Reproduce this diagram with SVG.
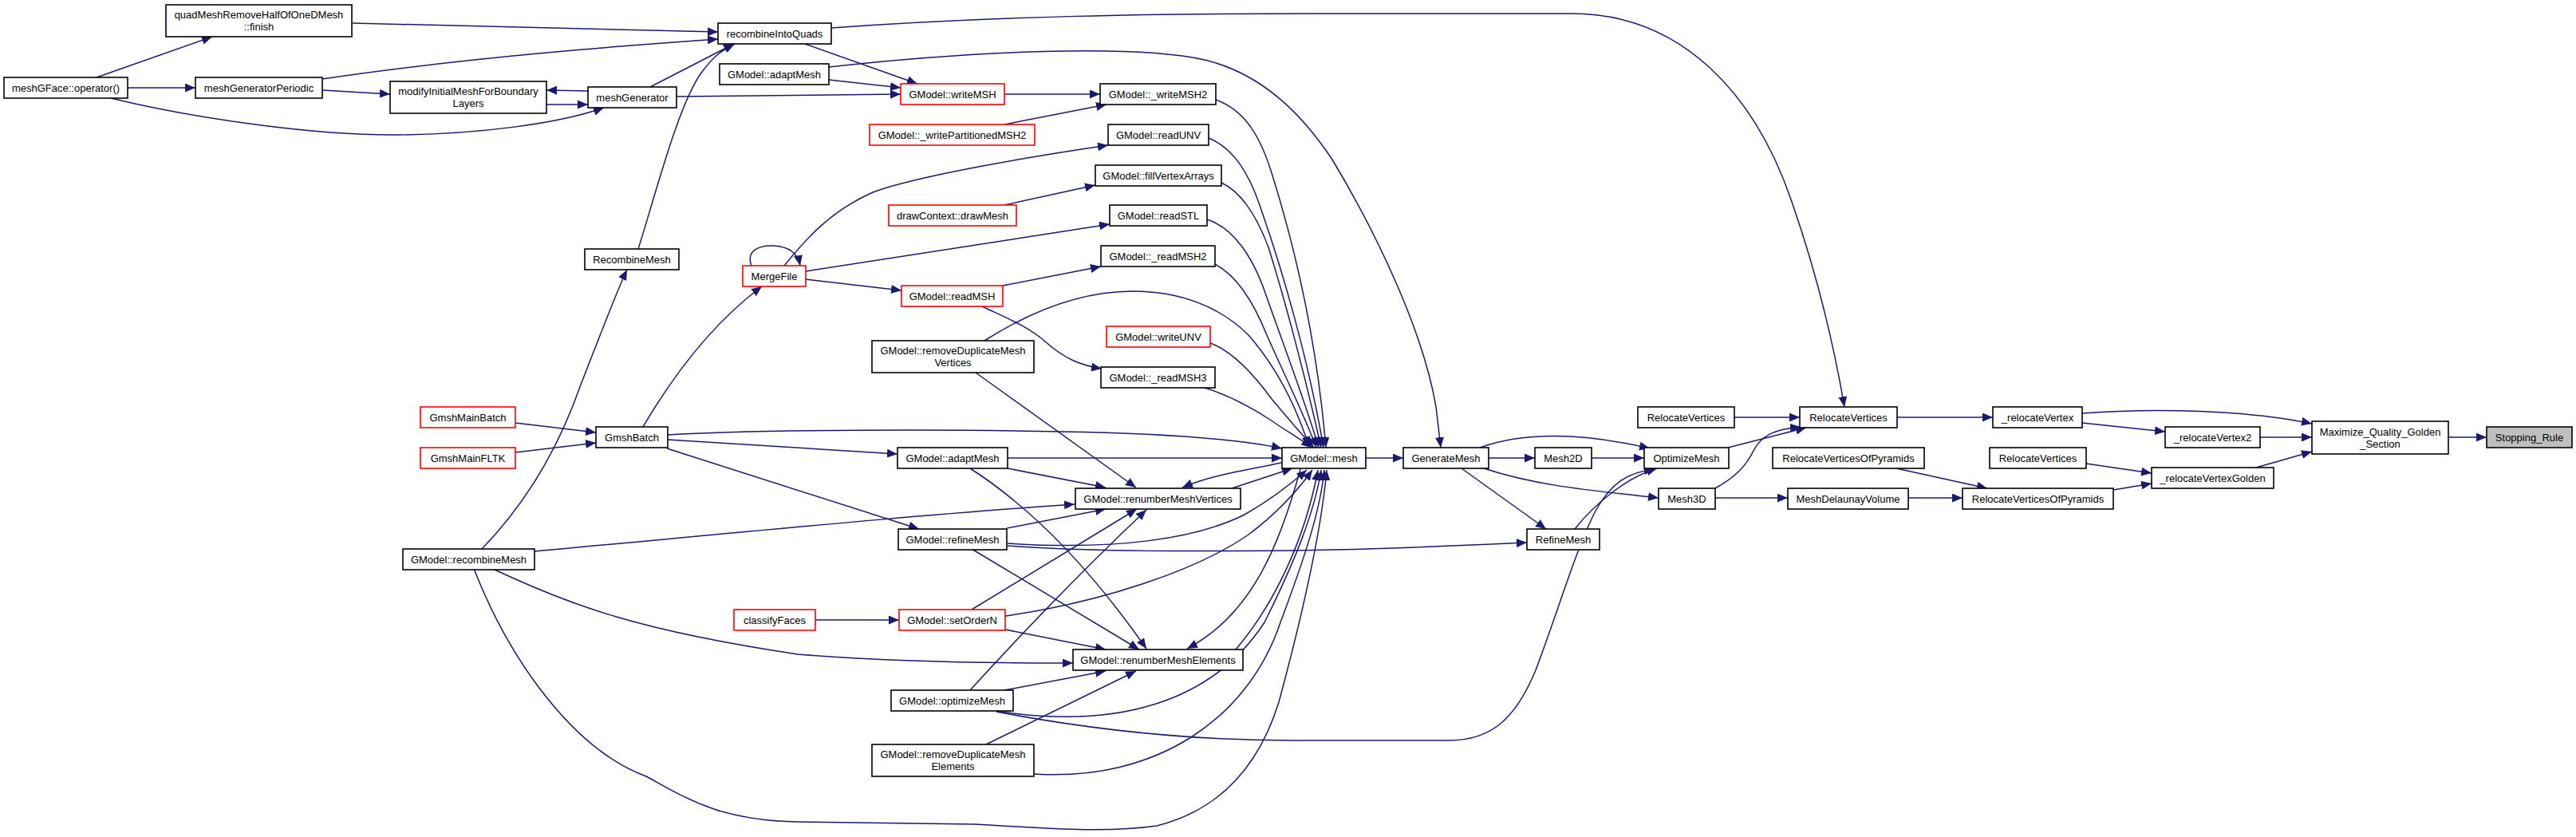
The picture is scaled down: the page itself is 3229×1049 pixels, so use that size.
<svg xmlns="http://www.w3.org/2000/svg" width="3229" height="1049" viewBox="0 0 3229 1049">
<style>
.n rect{fill:#fff;stroke:#000;stroke-width:1.6}
.n.r rect{stroke:#ff0000}
.n.g rect{fill:#bfbfbf}
.n text{font-family:"Liberation Sans",Arial,Helvetica,sans-serif;font-size:13px;text-anchor:middle;fill:#000}
#edges path{fill:none;stroke:#191970;stroke-width:1.5;marker-end:url(#a)}
</style>
<defs>
<marker id="a" markerUnits="userSpaceOnUse" markerWidth="14" markerHeight="11" refX="13" refY="5.5" orient="auto"><path d="M0,0 L13,5.5 L0,11 z" fill="#191970"/></marker>
</defs>
<rect width="3229" height="1049" fill="#fff"/>
<g id="edges">
<path d="M3069,548 L3117,548"/>
<path d="M2610,518 C2700,511 2820,514 2898,531"/>
<path d="M2610,530 L2714,541"/>
<path d="M2833,548 L2898,548"/>
<path d="M2828,586 L2898,566"/>
<path d="M2615,581 L2697,593"/>
<path d="M2649,614 L2697,606"/>
<path d="M2378,523 L2498,523"/>
<path d="M2392,624 L2460,624"/>
<path d="M2377,587 L2491,612"/>
<path d="M2174,523 L2256,523"/>
<path d="M2166,561 L2264,536"/>
<path d="M2150,612 C2175,598 2188,585 2198,565 C2208,545 2225,538 2257,535"/>
<path d="M1042,35 C1250,20 1450,17 1650,17 L1970,17 C2110,17 2200,120 2245,250 C2280,350 2300,440 2312,510"/>
<path d="M1866,574 L1924,574"/>
<path d="M1995,574 L2061,574"/>
<path d="M1855,561 C1900,545 1965,538 2068,562"/>
<path d="M1860,587 C1930,610 2000,615 2079,624"/>
<path d="M1832,587 L1938,663"/>
<path d="M1974,663 C2000,630 2040,598 2077,587"/>
<path d="M2150,624 L2241,624"/>
<path d="M1712,574 L1759,574"/>
<path d="M1249,892 C1370,915 1500,928 1620,928 L1816,928 C1870,928 1900,900 1925,840 C1955,760 1975,690 2000,640 C2020,605 2040,592 2074,588"/>
<path d="M1263,684 C1380,692 1500,691 1620,690 C1750,688 1850,683 1914,680"/>
<path d="M121,97 L266,46"/>
<path d="M160,110 L245,110"/>
<path d="M139,123 C250,150 400,170 500,169 C600,168 700,155 757,135"/>
<path d="M404,113 L489,118"/>
<path d="M404,99 C600,70 800,56 900,49"/>
<path d="M442,29 C650,33 800,38 900,40"/>
<path d="M737,114 L685,113"/>
<path d="M685,131 L737,131"/>
<path d="M815,109 L920,55"/>
<path d="M800,312 C820,250 850,130 880,90 C895,70 905,63 921,55"/>
<path d="M604,688 C660,630 700,560 725,490 C760,400 775,360 786,338"/>
<path d="M646,530 L747,542"/>
<path d="M646,567 L747,555"/>
<path d="M806,535 C850,460 900,400 955,359"/>
<path d="M837,545 C950,538 1200,538 1330,541 C1450,543 1550,550 1607,562"/>
<path d="M837,551 L1125,569"/>
<path d="M836,562 L1152,663"/>
<path d="M1263,574 L1607,574"/>
<path d="M1263,587 L1386,611"/>
<path d="M1216,587 Q1330,660 1437,813"/>
<path d="M1223,467 L1424,611"/>
<path d="M670,691 C900,670 1150,645 1347,632"/>
<path d="M1262,662 L1386,638"/>
<path d="M1218,688 L1428,814"/>
<path d="M1263,681 C1400,690 1500,675 1560,645 C1595,625 1620,605 1638,589"/>
<path d="M1218,764 L1425,638"/>
<path d="M1260,789 L1386,814"/>
<path d="M1260,772 C1380,755 1500,715 1565,670 C1605,640 1630,610 1645,589"/>
<path d="M1022,777 L1127,777"/>
<path d="M620,714 C720,760 800,790 1000,820 C1150,832 1300,831 1345,831"/>
<path d="M1606,580 C1560,590 1520,595 1482,611"/>
<path d="M1544,612 L1620,587"/>
<path d="M1630,588 C1605,680 1570,770 1488,813"/>
<path d="M1549,814 C1595,760 1635,680 1652,589"/>
<path d="M1259,865 L1386,841"/>
<path d="M1216,865 Q1330,740 1437,639"/>
<path d="M1249,891 C1400,915 1520,880 1585,780 C1625,700 1648,640 1656,589"/>
<path d="M1236,933 L1424,841"/>
<path d="M1296,970 C1450,980 1565,900 1605,780 C1635,700 1655,640 1660,589"/>
<path d="M594,713 C640,830 720,940 810,973 C860,1000 900,1028 1000,1030 L1223,1033 C1300,1037 1380,1045 1450,1035 C1530,1015 1578,960 1603,880 C1630,780 1656,670 1663,589"/>
<path d="M1524,125 C1560,138 1580,170 1595,220 C1620,300 1650,420 1662,561"/>
<path d="M1515,173 C1545,185 1565,215 1580,260 C1608,340 1640,450 1659,561"/>
<path d="M1531,229 C1555,240 1575,270 1590,310 C1612,380 1638,480 1656,561"/>
<path d="M1513,275 C1545,285 1570,320 1587,370 C1608,430 1635,500 1653,561"/>
<path d="M1523,331 C1550,345 1572,380 1588,420 C1610,470 1635,520 1650,561"/>
<path d="M1517,430 C1545,440 1572,470 1594,500 C1615,525 1632,545 1647,561"/>
<path d="M1507,485 C1540,495 1568,510 1595,528 C1612,540 1630,550 1644,561"/>
<path d="M1234,427 C1300,385 1360,365 1420,365 C1480,365 1530,385 1565,420 C1600,460 1625,510 1641,560"/>
<path d="M1039,84 C1220,64 1420,55 1510,75 C1580,92 1630,140 1670,200 C1730,300 1785,420 1800,510 L1806,561"/>
<path d="M1009,55 L1150,105"/>
<path d="M1039,100 L1129,110"/>
<path d="M848,121 L1129,118"/>
<path d="M1259,118 L1379,118"/>
<path d="M1259,156 L1387,131"/>
<path d="M983,333 C1010,300 1040,265 1094,241 C1150,220 1300,195 1389,182"/>
<path d="M1259,257 L1373,232"/>
<path d="M1010,340 L1391,281"/>
<path d="M1010,350 L1130,364"/>
<path d="M942,333 C935,315 950,307 970,308 C990,309 1000,318 1003,333"/>
<path d="M1257,358 L1380,334"/>
<path d="M1231,384 C1265,400 1290,410 1310,428 C1335,450 1355,458 1381,462"/>
</g>
<g id="n_quadMeshFinish" class="n"><rect x="208" y="6" width="233" height="40"/><text x="324.5" y="23">quadMeshRemoveHalfOfOneDMesh</text><text x="324.5" y="38">::finish</text></g>
<g id="n_meshGFaceOp" class="n"><rect x="5" y="97" width="155" height="26"/><text x="82.5" y="114.5">meshGFace::operator()</text></g>
<g id="n_meshGeneratorPeriodic" class="n"><rect x="245" y="97" width="159" height="26"/><text x="324.5" y="114.5">meshGeneratorPeriodic</text></g>
<g id="n_modifyInitialMesh" class="n"><rect x="489" y="102" width="196" height="40"/><text x="587" y="119">modifyInitialMeshForBoundary</text><text x="587" y="134">Layers</text></g>
<g id="n_meshGenerator" class="n"><rect x="737" y="109" width="111" height="26"/><text x="792.5" y="126.5">meshGenerator</text></g>
<g id="n_RecombineMesh" class="n"><rect x="733" y="312" width="118" height="26"/><text x="792" y="329.5">RecombineMesh</text></g>
<g id="n_GmshMainBatch" class="n r"><rect x="527" y="510" width="119" height="26"/><text x="586.5" y="527.5">GmshMainBatch</text></g>
<g id="n_GmshMainFLTK" class="n r"><rect x="527" y="561" width="119" height="26"/><text x="586.5" y="578.5">GmshMainFLTK</text></g>
<g id="n_GmshBatch" class="n"><rect x="747" y="535" width="90" height="26"/><text x="792" y="552.5">GmshBatch</text></g>
<g id="n_recombineMesh" class="n"><rect x="505" y="688" width="165" height="26"/><text x="587.5" y="705.5">GModel::recombineMesh</text></g>
<g id="n_recombineIntoQuads" class="n"><rect x="900" y="29" width="142" height="26"/><text x="971" y="46.5">recombineIntoQuads</text></g>
<g id="n_adaptMesh1" class="n"><rect x="902" y="80" width="137" height="26"/><text x="970.5" y="97.5">GModel::adaptMesh</text></g>
<g id="n_writeMSH" class="n r"><rect x="1129" y="105" width="130" height="26"/><text x="1194" y="122.5">GModel::writeMSH</text></g>
<g id="n_writeMSH2" class="n"><rect x="1379" y="105" width="145" height="26"/><text x="1451.5" y="122.5">GModel::_writeMSH2</text></g>
<g id="n_writePartitionedMSH2" class="n r"><rect x="1090" y="156" width="207" height="26"/><text x="1193.5" y="173.5">GModel::_writePartitionedMSH2</text></g>
<g id="n_readUNV" class="n"><rect x="1389" y="156" width="126" height="26"/><text x="1452" y="173.5">GModel::readUNV</text></g>
<g id="n_fillVertexArrays" class="n"><rect x="1373" y="207" width="158" height="26"/><text x="1452" y="224.5">GModel::fillVertexArrays</text></g>
<g id="n_drawMesh" class="n r"><rect x="1114" y="257" width="160" height="26"/><text x="1194" y="274.5">drawContext::drawMesh</text></g>
<g id="n_readSTL" class="n"><rect x="1391" y="257" width="122" height="26"/><text x="1452" y="274.5">GModel::readSTL</text></g>
<g id="n_readMSH2" class="n"><rect x="1380" y="308" width="143" height="26"/><text x="1451.5" y="325.5">GModel::_readMSH2</text></g>
<g id="n_MergeFile" class="n r"><rect x="931" y="333" width="79" height="26"/><text x="970.5" y="350.5">MergeFile</text></g>
<g id="n_readMSH" class="n r"><rect x="1130" y="358" width="127" height="26"/><text x="1193.5" y="375.5">GModel::readMSH</text></g>
<g id="n_writeUNV" class="n r"><rect x="1387" y="409" width="130" height="26"/><text x="1452" y="426.5">GModel::writeUNV</text></g>
<g id="n_removeDupVertices" class="n"><rect x="1093" y="427" width="203" height="40"/><text x="1194.5" y="444">GModel::removeDuplicateMesh</text><text x="1194.5" y="459">Vertices</text></g>
<g id="n_readMSH3" class="n"><rect x="1380" y="460" width="143" height="26"/><text x="1451.5" y="477.5">GModel::_readMSH3</text></g>
<g id="n_adaptMesh2" class="n"><rect x="1125" y="561" width="138" height="26"/><text x="1194" y="578.5">GModel::adaptMesh</text></g>
<g id="n_renumberMeshVertices" class="n"><rect x="1348" y="612" width="207" height="26"/><text x="1451.5" y="629.5">GModel::renumberMeshVertices</text></g>
<g id="n_refineMesh" class="n"><rect x="1126" y="663" width="136" height="26"/><text x="1194" y="680.5">GModel::refineMesh</text></g>
<g id="n_classifyFaces" class="n r"><rect x="920" y="764" width="102" height="26"/><text x="971" y="781.5">classifyFaces</text></g>
<g id="n_setOrderN" class="n r"><rect x="1127" y="764" width="133" height="26"/><text x="1193.5" y="781.5">GModel::setOrderN</text></g>
<g id="n_renumberMeshElements" class="n"><rect x="1345" y="814" width="213" height="26"/><text x="1451.5" y="831.5">GModel::renumberMeshElements</text></g>
<g id="n_optimizeMesh" class="n"><rect x="1117" y="865" width="153" height="26"/><text x="1193.5" y="882.5">GModel::optimizeMesh</text></g>
<g id="n_removeDupElements" class="n"><rect x="1093" y="933" width="203" height="40"/><text x="1194.5" y="950">GModel::removeDuplicateMesh</text><text x="1194.5" y="965">Elements</text></g>
<g id="n_mesh" class="n"><rect x="1607" y="561" width="105" height="26"/><text x="1659.5" y="578.5">GModel::mesh</text></g>
<g id="n_GenerateMesh" class="n"><rect x="1759" y="561" width="107" height="26"/><text x="1812.5" y="578.5">GenerateMesh</text></g>
<g id="n_Mesh2D" class="n"><rect x="1924" y="561" width="71" height="26"/><text x="1959.5" y="578.5">Mesh2D</text></g>
<g id="n_OptimizeMesh" class="n"><rect x="2061" y="561" width="106" height="26"/><text x="2114" y="578.5">OptimizeMesh</text></g>
<g id="n_RelocVertsPyr1" class="n"><rect x="2222" y="561" width="190" height="26"/><text x="2317" y="578.5">RelocateVerticesOfPyramids</text></g>
<g id="n_Mesh3D" class="n"><rect x="2079" y="612" width="71" height="26"/><text x="2114.5" y="629.5">Mesh3D</text></g>
<g id="n_MeshDelaunayVolume" class="n"><rect x="2241" y="612" width="151" height="26"/><text x="2316.5" y="629.5">MeshDelaunayVolume</text></g>
<g id="n_RefineMesh" class="n"><rect x="1914" y="663" width="91" height="26"/><text x="1959.5" y="680.5">RefineMesh</text></g>
<g id="n_RelocVertsA" class="n"><rect x="2053" y="510" width="121" height="26"/><text x="2113.5" y="527.5">RelocateVertices</text></g>
<g id="n_RelocVertsMain" class="n"><rect x="2256" y="510" width="122" height="26"/><text x="2317" y="527.5">RelocateVertices</text></g>
<g id="n_relocateVertex" class="n"><rect x="2498" y="510" width="112" height="26"/><text x="2554" y="527.5">_relocateVertex</text></g>
<g id="n_relocateVertex2" class="n"><rect x="2714" y="535" width="119" height="26"/><text x="2773.5" y="552.5">_relocateVertex2</text></g>
<g id="n_Maximize" class="n"><rect x="2898" y="528" width="171" height="41"/><text x="2983.5" y="545.5">Maximize_Quality_Golden</text><text x="2983.5" y="560.5">_Section</text></g>
<g id="n_StoppingRule" class="n g"><rect x="3117" y="535" width="107" height="26"/><text x="3170.5" y="552.5">Stopping_Rule</text></g>
<g id="n_RelocVertsC" class="n"><rect x="2494" y="561" width="121" height="26"/><text x="2554.5" y="578.5">RelocateVertices</text></g>
<g id="n_relocateVertexGolden" class="n"><rect x="2697" y="586" width="153" height="26"/><text x="2773.5" y="603.5">_relocateVertexGolden</text></g>
<g id="n_RelocVertsPyrMain" class="n"><rect x="2460" y="612" width="189" height="26"/><text x="2554.5" y="629.5">RelocateVerticesOfPyramids</text></g>
</svg>
